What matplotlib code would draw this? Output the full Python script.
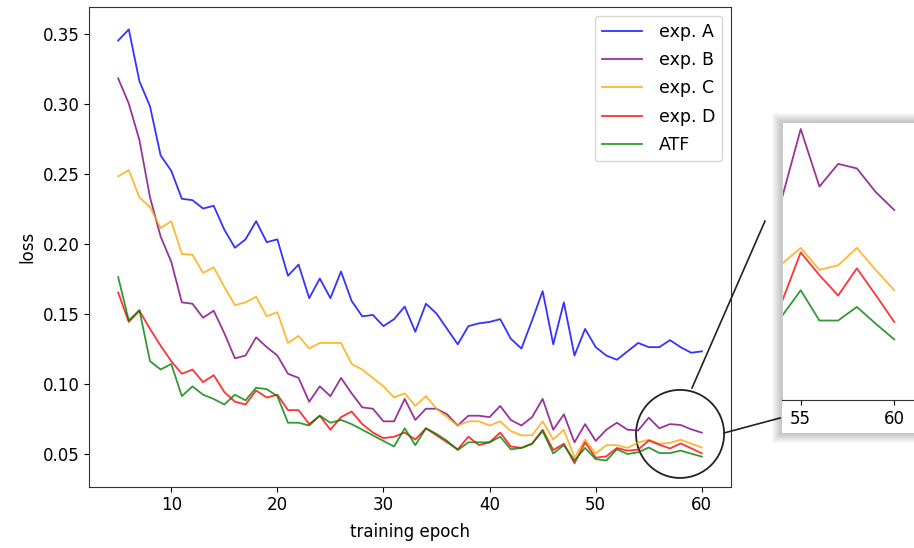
import matplotlib
matplotlib.use("Agg")
import matplotlib.pyplot as plt
from matplotlib.patches import Ellipse, Rectangle
from matplotlib.lines import Line2D

epochs = list(range(5, 61))

exp_a = [0.345, 0.353, 0.316, 0.298, 0.263, 0.252, 0.232, 0.231, 0.225, 0.227,
         0.210, 0.197, 0.203, 0.216, 0.201, 0.203, 0.177, 0.185, 0.161, 0.175,
         0.161, 0.180, 0.159, 0.148, 0.149, 0.141, 0.146, 0.155, 0.137, 0.157,
         0.150, 0.139, 0.128, 0.141, 0.143, 0.144, 0.146, 0.132, 0.125, 0.145,
         0.166, 0.128, 0.158, 0.120, 0.139, 0.126, 0.120, 0.117, 0.123, 0.129,
         0.126, 0.126, 0.131, 0.126, 0.122, 0.123]

exp_b = [0.318, 0.300, 0.274, 0.233, 0.205, 0.187, 0.158, 0.157, 0.147, 0.152,
         0.136, 0.118, 0.120, 0.133, 0.126, 0.120, 0.107, 0.104, 0.087, 0.098,
         0.091, 0.104, 0.093, 0.083, 0.082, 0.073, 0.073, 0.089, 0.074, 0.082,
         0.082, 0.078, 0.070, 0.077, 0.077, 0.076, 0.084, 0.074, 0.070, 0.076,
         0.089, 0.067, 0.078, 0.058, 0.071, 0.059, 0.067, 0.072, 0.067, 0.0665,
         0.0756, 0.068, 0.071, 0.0704, 0.0673, 0.0649]

exp_c = [0.248, 0.2525, 0.233, 0.226, 0.211, 0.216, 0.1925, 0.192, 0.179, 0.183,
         0.169, 0.156, 0.158, 0.162, 0.148, 0.151, 0.129, 0.134, 0.125, 0.129,
         0.129, 0.129, 0.114, 0.110, 0.104, 0.098, 0.090, 0.093, 0.084, 0.091,
         0.082, 0.076, 0.070, 0.073, 0.073, 0.070, 0.073, 0.066, 0.063, 0.063,
         0.073, 0.060, 0.067, 0.047, 0.060, 0.050, 0.056, 0.056, 0.054, 0.0578,
         0.0599, 0.0570, 0.0576, 0.0599, 0.0570, 0.0543]

exp_d = [0.165, 0.144, 0.152, 0.139, 0.127, 0.116, 0.107, 0.110, 0.101, 0.106,
         0.094, 0.087, 0.085, 0.095, 0.090, 0.092, 0.081, 0.081, 0.071, 0.077,
         0.067, 0.076, 0.080, 0.071, 0.065, 0.061, 0.062, 0.065, 0.060, 0.068,
         0.063, 0.058, 0.053, 0.062, 0.056, 0.058, 0.065, 0.055, 0.054, 0.057,
         0.067, 0.0525, 0.057, 0.043, 0.058, 0.047, 0.048, 0.054, 0.052, 0.0528,
         0.0593, 0.0563, 0.0536, 0.0572, 0.0537, 0.0501]

atf = [0.176, 0.145, 0.1525, 0.116, 0.110, 0.114, 0.091, 0.098, 0.092, 0.089,
       0.085, 0.092, 0.088, 0.097, 0.096, 0.091, 0.072, 0.072, 0.070, 0.077,
       0.072, 0.074, 0.071, 0.067, 0.063, 0.059, 0.055, 0.068, 0.056, 0.068,
       0.064, 0.059, 0.0525, 0.058, 0.058, 0.058, 0.062, 0.053, 0.054, 0.057,
       0.066, 0.050, 0.056, 0.045, 0.054, 0.046, 0.045, 0.053, 0.0496, 0.0509,
       0.0543, 0.0503, 0.0503, 0.0521, 0.0499, 0.0478]

labels = ["exp. A", "exp. B", "exp. C", "exp. D", "ATF"]
colors = ["blue", "purple", "orange", "red", "green"]
series = [exp_a, exp_b, exp_c, exp_d, atf]

W, H = 914, 548
plt.rcParams['font.family'] = ['DejaVu Sans']
plt.rcParams['font.size'] = 12

fig = plt.figure(figsize=(W / 100, H / 100), dpi=100)


def fx(x):
    return x / W


def fy(y):
    return 1 - y / H


# main axes
ax = fig.add_axes([fx(89), fy(486.7), (731 - 89) / W, (486.7 - 7) / H])
for s, lab, c in zip(series, labels, colors):
    ax.plot(epochs, s, color=c, lw=1.3, alpha=0.8, label=lab)
ax.set_xlim(2.25, 62.75)
ax.set_ylim(0.0263, 0.369)
ax.set_xticks([10, 20, 30, 40, 50, 60])
ax.set_yticks([0.05, 0.10, 0.15, 0.20, 0.25, 0.30, 0.35])
ax.set_xlabel("training epoch", labelpad=6)
ax.set_ylabel("loss")
for sp in ax.spines.values():
    sp.set_color("#333333")
ax.legend(loc="upper right", fontsize=12.5, labelspacing=0.6,
          handlelength=2.3, handletextpad=1.0)

# zoom circle
circ = Ellipse((57.95, 0.064), width=8.3, height=0.0629, fill=False,
               edgecolor="#222222", lw=1.3)
ax.add_patch(circ)

# connector lines (figure coords)
fig.add_artist(Line2D([fx(692), fx(765)], [fy(388), fy(221)],
                      color="#222222", lw=1.2))
fig.add_artist(Line2D([fx(724), fx(780)], [fy(433), fy(418)],
                      color="#222222", lw=1.2))

# soft shadow + white box for inset
bx0, by0, bx1, by1 = 782, 123, 918, 433
nlay = 10
for i in range(nlay):
    d = nlay - i
    r = Rectangle((fx(bx0 - d), fy(by1 + d)),
                  (bx1 - bx0 + 2 * d) / W, (by1 - by0 + 2 * d) / H,
                  facecolor="black", edgecolor="none", alpha=0.022)
    r.set_zorder(2)
    fig.add_artist(r)
box = Rectangle((fx(bx0), fy(by1)), (bx1 - bx0) / W, (by1 - by0) / H,
                facecolor="white", edgecolor="none")
box.set_zorder(3)
fig.add_artist(box)

# inset axes
axi = fig.add_axes([fx(782), fy(400), (913 - 782) / W, (400 - 123) / H])
axi.set_zorder(5)
axi.patch.set_alpha(0)
for s, c in zip(series, colors):
    axi.plot(epochs, s, color=c, lw=1.3, alpha=0.8)
axi.set_xlim(54, 61)
axi.set_ylim(0.0398, 0.0764)
axi.set_xticks([55, 60])
axi.set_yticks([])
for k in ["top", "right"]:
    axi.spines[k].set_visible(False)
axi.spines["left"].set_color("#cccccc")
axi.spines["bottom"].set_color("#333333")

fig.savefig("out.png", dpi=100)
